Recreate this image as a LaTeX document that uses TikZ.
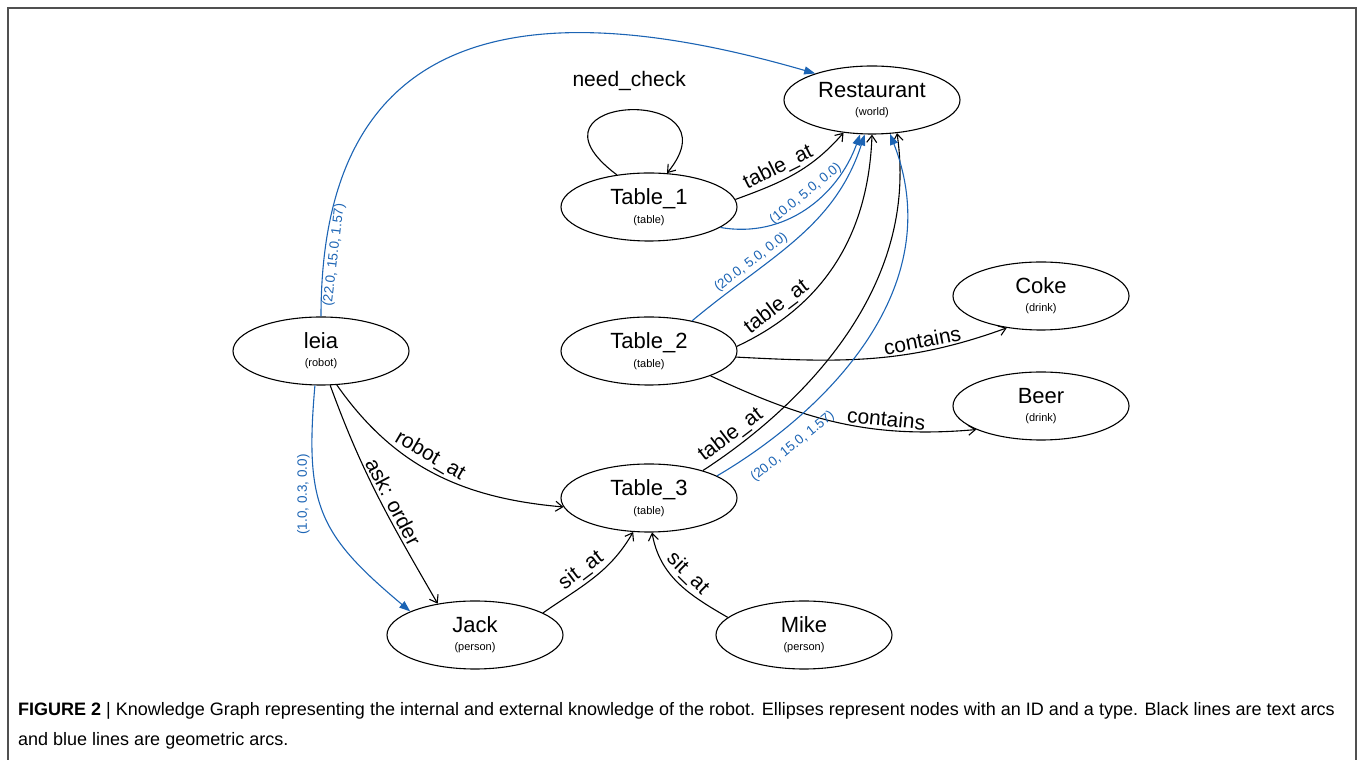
\documentclass[tikz,border=0pt]{standalone}
\usepackage{fontspec}
\setmainfont{Liberation Sans}
\usepackage{tikz}
\usepackage{xcolor}
\usetikzlibrary{arrows.meta,shapes.geometric}
\definecolor{geoblue}{RGB}{28,100,180}
\definecolor{framegray}{RGB}{80,80,80}
\newcommand{\idfont}{\fontsize{22}{24}\selectfont}
\newcommand{\typefont}{\fontsize{11}{13}\selectfont}
\newcommand{\lblfont}{\fontsize{21}{24}\selectfont}
\newcommand{\geofont}{\fontsize{13.5}{16}\selectfont}
\newcommand{\capfont}{\fontsize{18}{30}\selectfont}
\tikzset{%
  % nodes
  kgnode/.style={draw, ellipse, minimum width=176pt, minimum height=68pt,
    inner sep=0pt, align=center, line width=1.1pt},
  % edge styles
  textarc/.style={-{Straight Barb[length=7pt,width=10pt]}, line width=1.1pt},
  geoarc/.style={-{Triangle[length=11pt,width=8pt]}, line width=1.1pt, draw=geoblue, fill=none},
  lbl/.style={font=\lblfont, sloped, inner sep=3pt},
  geolbl/.style={font=\geofont, text=geoblue, sloped, inner sep=3pt},
}
\newcommand{\kgnode}[4]{%
  % #1 = node name
  % #2 = position
  % #3 = ID
  % #4 = type
  \node[kgnode] (#1) at (#2) {%
    {\idfont #3}\\[6pt]
    {\typefont (#4)}%
  };
}

\begin{document}
\begin{tikzpicture}[x=1pt, y=1pt]
  \useasboundingbox (0,0) rectangle (1358,760);
  % frame
  \draw[framegray, line width=1.2pt] (8,0) -- (8,752) -- (1356,752) -- (1356,0);

  % nodes
  \kgnode{rest}{872,660}{Restaurant}{world}
  \kgnode{t1}{649,553}{Table\_1}{table}
  \kgnode{t2}{649,409}{Table\_2}{table}
  \kgnode{leia}{321,409}{leia}{robot}
  \kgnode{coke}{1041,464}{Coke}{drink}
  \kgnode{beer}{1041,354}{Beer}{drink}
  \kgnode{t3}{649,262}{Table\_3}{table}
  \kgnode{jack}{475,125}{Jack}{person}
  \kgnode{mike}{804,125}{Mike}{person}

  % text arcs
  \draw[textarc] (t1.135) .. controls +(-108,81) and +(74,90) .. node[above=15pt, font=\lblfont] {need\_check} (t1.62);
  \draw[textarc] (t1.5) to[out=20,in=229] node[lbl, above, pos=.4] {table\_at} (rest.-131);
  \draw[textarc] (t2.3) to[out=25,in=268] node[lbl, above, pos=.2] {table\_at} (rest.-90);
  \draw[textarc] (t3.27) .. controls +(88,57) and +(24,-162) .. node[lbl, above, pos=.13] {table\_at} (rest.-53);
  \draw[textarc] (t2.-4) to[out=-3,in=200] node[lbl, above, pos=.7] {contains} (coke.-137);
  \draw[textarc] (t2.-22) to[out=-25,in=185] node[lbl, above, pos=.68] {contains} (beer.200);
  \draw[textarc] (leia.-65) to[out=-55,in=175] node[lbl, above, pos=.45] {robot\_at} (t3.186);
  \draw[textarc] (leia.-75) to[out=-70,in=120] node[lbl, above, pos=.55] {ask: order} (jack.140);
  \draw[textarc] (jack.18) to[out=35,in=240] node[lbl, above, pos=.45] {sit\_at} (t3.-115);
  \draw[textarc] (mike.167) to[out=150,in=-80] node[lbl, above, pos=.5] {sit\_at} (t3.-85);

  % geometric arcs
  \draw[geoarc] (leia.north) .. controls +(0,278) and +(-310,90) .. node[geolbl, below, pos=.08] {(22.0, 15.0, 1.57)} (rest.155);
  \draw[geoarc] (t1.-16) to[out=-10,in=250] node[geolbl, above=2pt, pos=.55] {(10.0, 5.0, 0.0)} (rest.-109);
  \draw[geoarc] (t2.35) to[out=40,in=252] node[geolbl, above, pos=.3] {(20.0, 5.0, 0.0)} (rest.-102);
  \draw[geoarc] (t3.18) .. controls +(104,61) and +(61,-157) .. node[geolbl, below=9pt, pos=.2] {(20.0, 15.0, 1.57)} (rest.-62);
  \draw[geoarc] (leia.-100) to[out=-95,in=140,looseness=1.25] node[font=\geofont, text=geoblue, rotate=90, anchor=south, yshift=4pt, pos=.4] {(1.0, 0.3, 0.0)} (jack.160);

  % caption
  \node[anchor=west, align=left, font=\capfont, inner sep=0pt] (caption) at (18,34)
    {\textbf{FIGURE 2} | Knowledge Graph representing the internal and external knowledge of the robot. Ellipses represent nodes with an ID and a type. Black lines are text arcs\\
     and blue lines are geometric arcs.};
\end{tikzpicture}
\end{document}
